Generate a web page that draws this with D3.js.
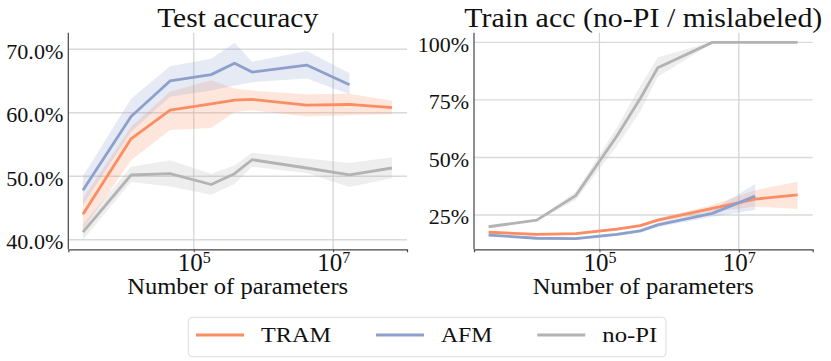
<!DOCTYPE html>
<html>
<head>
<meta charset="utf-8">
<script src="https://cdn.jsdelivr.net/npm/d3@7"></script>
<style>
  body { margin: 0; background: #fff; }
</style>
</head>
<body>
<div id="chart"></div>
<script>
// number of parameters (shared by both panels)
const params = [2570, 12600, 45700, 178000, 385000, 687000, 4170000, 17200000, 69800000];

const methods = ["TRAM", "AFM", "no-PI"];
const colors = ["#fc8d62", "#8da0cb", "#b3b3b3"];

// Test accuracy (%)
const testTram   = [44.0, 55.9, 60.4, 61.4, 62.0, 62.1, 61.2, 61.3, 60.8];
const testTramLo = [41.5, 52.5, 57.3, 57.6, 60.1, 60.4, 59.4, 59.6, 59.8];
const testTramHi = [46.5, 57.8, 63.3, 65.1, 63.8, 63.5, 62.9, 63.0, 61.9];
const testAfm    = [47.8, 59.4, 65.0, 66.0, 67.8, 66.4, 67.5, 64.4];
const testAfmLo  = [45.5, 57.0, 62.5, 63.5, 64.3, 64.8, 65.4, 62.9];
const testAfmHi  = [50.0, 62.2, 67.3, 68.5, 71.0, 68.0, 69.7, 66.2];
const testNoPI   = [41.2, 50.2, 50.4, 48.7, 50.4, 52.6, 51.3, 50.2, 51.3];
const testNoPILo = [40.0, 49.1, 48.4, 47.1, 48.8, 51.5, 50.5, 48.3, 49.7];
const testNoPIHi = [42.5, 51.5, 52.5, 50.4, 51.7, 53.7, 52.8, 52.1, 53.0];

// Train accuracy on no-PI / mislabeled (%)
const trainTram   = [17.5, 16.6, 16.9, 18.9, 20.4, 22.8, 27.9, 31.9, 33.7];
const trainTramLo = [17.0, 16.1, 16.4, 18.3, 19.8, 22.0, 26.5, 28.6, 27.6];
const trainTramHi = [18.0, 17.1, 17.4, 19.5, 21.0, 23.6, 29.3, 35.8, 39.5];
const trainAfm    = [16.3, 14.9, 14.7, 16.6, 18.1, 20.7, 25.7, 33.2];
const trainAfmLo  = [15.8, 14.4, 14.2, 16.0, 17.4, 19.8, 24.2, 27.2];
const trainAfmHi  = [16.8, 15.4, 15.2, 17.2, 18.8, 21.6, 27.2, 38.5];
const trainNoPI   = [19.9, 22.8, 33.4, 59.3, 75.6, 89.0, 100, 100, 100];
const trainNoPILo = [19.4, 22.3, 31.5, 55.0, 70.0, 85.0, 99.8, 99.8, 99.8];
const trainNoPIHi = [20.4, 23.3, 35.0, 63.0, 81.0, 93.5, 100.2, 100.2, 100.2];

const xTicks = [1e5, 1e7];
const testTicks = [40, 50, 60, 70];
const trainTicks = [25, 50, 75, 100];

const width = 831, height = 361;
const FONT = "'Liberation Serif'";

const svg = d3.select("#chart")
  .append("svg")
  .attr("width", width)
  .attr("height", height);

svg.append("rect").attr("width", width).attr("height", height).attr("fill", "#fff");

// serif text, stretched to the width measured on the reference
function label(sel, size, w) {
  sel.style("font-family", FONT)
    .style("font-size", size + "px")
    .attr("fill", "#111");
  if (w) sel.attr("textLength", w).attr("lengthAdjust", "spacingAndGlyphs");
}

function drawPanel(p) {
  const x = d3.scaleLog()
    .domain([Math.pow(10, 3.2), Math.pow(10, 8.06)])
    .range([p.left, p.right]);
  const y = d3.scaleLinear()
    .domain(p.yDomain)
    .range([249.3, 32.7]);

  const g = svg.append("g");

  // grid
  g.selectAll(".hgrid")
    .data(p.yTicks)
    .enter().append("line")
      .attr("x1", p.left).attr("x2", p.right)
      .attr("y1", d => y(d)).attr("y2", d => y(d))
      .attr("stroke", "#dadada").attr("stroke-width", 1.4);
  g.selectAll(".vgrid")
    .data(xTicks)
    .enter().append("line")
      .attr("x1", d => x(d)).attr("x2", d => x(d))
      .attr("y1", 32.7).attr("y2", 249.3)
      .attr("stroke", "#d2d2d2").attr("stroke-width", 1.2);

  // bands
  p.series.forEach((s, k) => {
    const pts = s.mean.map((m, i) => ({ x: params[i], m: m, lo: s.lo[i], hi: s.hi[i] }));
    g.append("path")
      .datum(pts)
      .attr("fill", colors[k])
      .attr("fill-opacity", 0.22)
      .attr("d", d3.area().x(d => x(d.x)).y0(d => y(d.lo)).y1(d => y(d.hi)));
  });

  // lines
  p.series.forEach((s, k) => {
    const pts = s.mean.map((m, i) => ({ x: params[i], m: m }));
    g.append("path")
      .datum(pts)
      .attr("fill", "none")
      .attr("stroke", colors[k])
      .attr("stroke-width", 2.8)
      .attr("stroke-linejoin", "round")
      .attr("d", d3.line().x(d => x(d.x)).y(d => y(d.m)));
  });

  // x axis
  const xAxis = g.append("g")
    .attr("transform", `translate(0,249.3)`)
    .call(d3.axisBottom(x).tickValues(xTicks).tickSize(3).tickFormat(""));
  xAxis.select(".domain").attr("stroke", "#444").attr("stroke-width", 1.2);
  xAxis.selectAll(".tick line").attr("stroke", "#444");
  xAxis.selectAll(".tick").append("text")
    .attr("y", 21.4)
    .attr("text-anchor", "middle")
    .call(label, 25)
    .each(function(d) {
      const t = d3.select(this);
      t.append("tspan").text("10");
      t.append("tspan").attr("dy", -8).style("font-size", "16px").text(Math.round(Math.log10(d)));
    });

  // y axis
  const yAxis = g.append("g")
    .attr("transform", `translate(${p.left},0)`)
    .call(d3.axisLeft(y).tickValues(p.yTicks).tickSize(0).tickPadding(5).tickFormat(p.fmt));
  yAxis.select(".domain").attr("stroke", "#444").attr("stroke-width", 1.2)
    .attr("d", `M0,32.7V249.3`);
  yAxis.selectAll(".tick text")
    .call(label, 22, p.tickWidth)
    .attr("dy", "0.4em");

  // title
  const cx = (p.left + p.right) / 2;
  g.append("text")
    .attr("x", cx).attr("y", 26.7)
    .attr("text-anchor", "middle")
    .text(p.title)
    .call(label, 28, p.titleWidth);

  g.append("text")
    .attr("x", cx).attr("y", 294.3)
    .attr("text-anchor", "middle")
    .text("Number of parameters")
    .call(label, 23, 221);
}

drawPanel({
  left: 68.3, right: 407,
  yDomain: [38.5, 72.6],
  yTicks: testTicks,
  fmt: d => d.toFixed(1) + "%",
  tickWidth: 57,
  title: "Test accuracy", titleWidth: 161,
  series: [
    { mean: testTram, lo: testTramLo, hi: testTramHi },
    { mean: testAfm, lo: testAfmLo, hi: testAfmHi },
    { mean: testNoPI, lo: testNoPILo, hi: testNoPIHi }
  ]
});

drawPanel({
  left: 474, right: 812.7,
  yDomain: [10.1, 104.2],
  yTicks: trainTicks,
  fmt: d => d + "%",
  title: "Train acc (no-PI / mislabeled)", titleWidth: 358,
  series: [
    { mean: trainTram, lo: trainTramLo, hi: trainTramHi },
    { mean: trainAfm, lo: trainAfmLo, hi: trainAfmHi },
    { mean: trainNoPI, lo: trainNoPILo, hi: trainNoPIHi }
  ]
});

// legend
const legend = svg.append("g");
legend.append("rect")
  .attr("x", 188.3).attr("y", 317.3)
  .attr("width", 477.7).attr("height", 39.4)
  .attr("rx", 4)
  .attr("fill", "#fff")
  .attr("stroke", "#dcdcdc")
  .attr("stroke-width", 1);

const legendTextW = [70, 51.3, 55];
let cursor = 196;
methods.forEach((name, k) => {
  legend.append("line")
    .attr("x1", cursor).attr("x2", cursor + 48)
    .attr("y1", 335).attr("y2", 335)
    .attr("stroke", colors[k]).attr("stroke-width", 2.8);
  legend.append("text")
    .attr("x", cursor + 65).attr("y", 342.3)
    .text(name)
    .call(label, 22, legendTextW[k]);
  cursor += 65 + legendTextW[k] + 45;
});
</script>
</body>
</html>
